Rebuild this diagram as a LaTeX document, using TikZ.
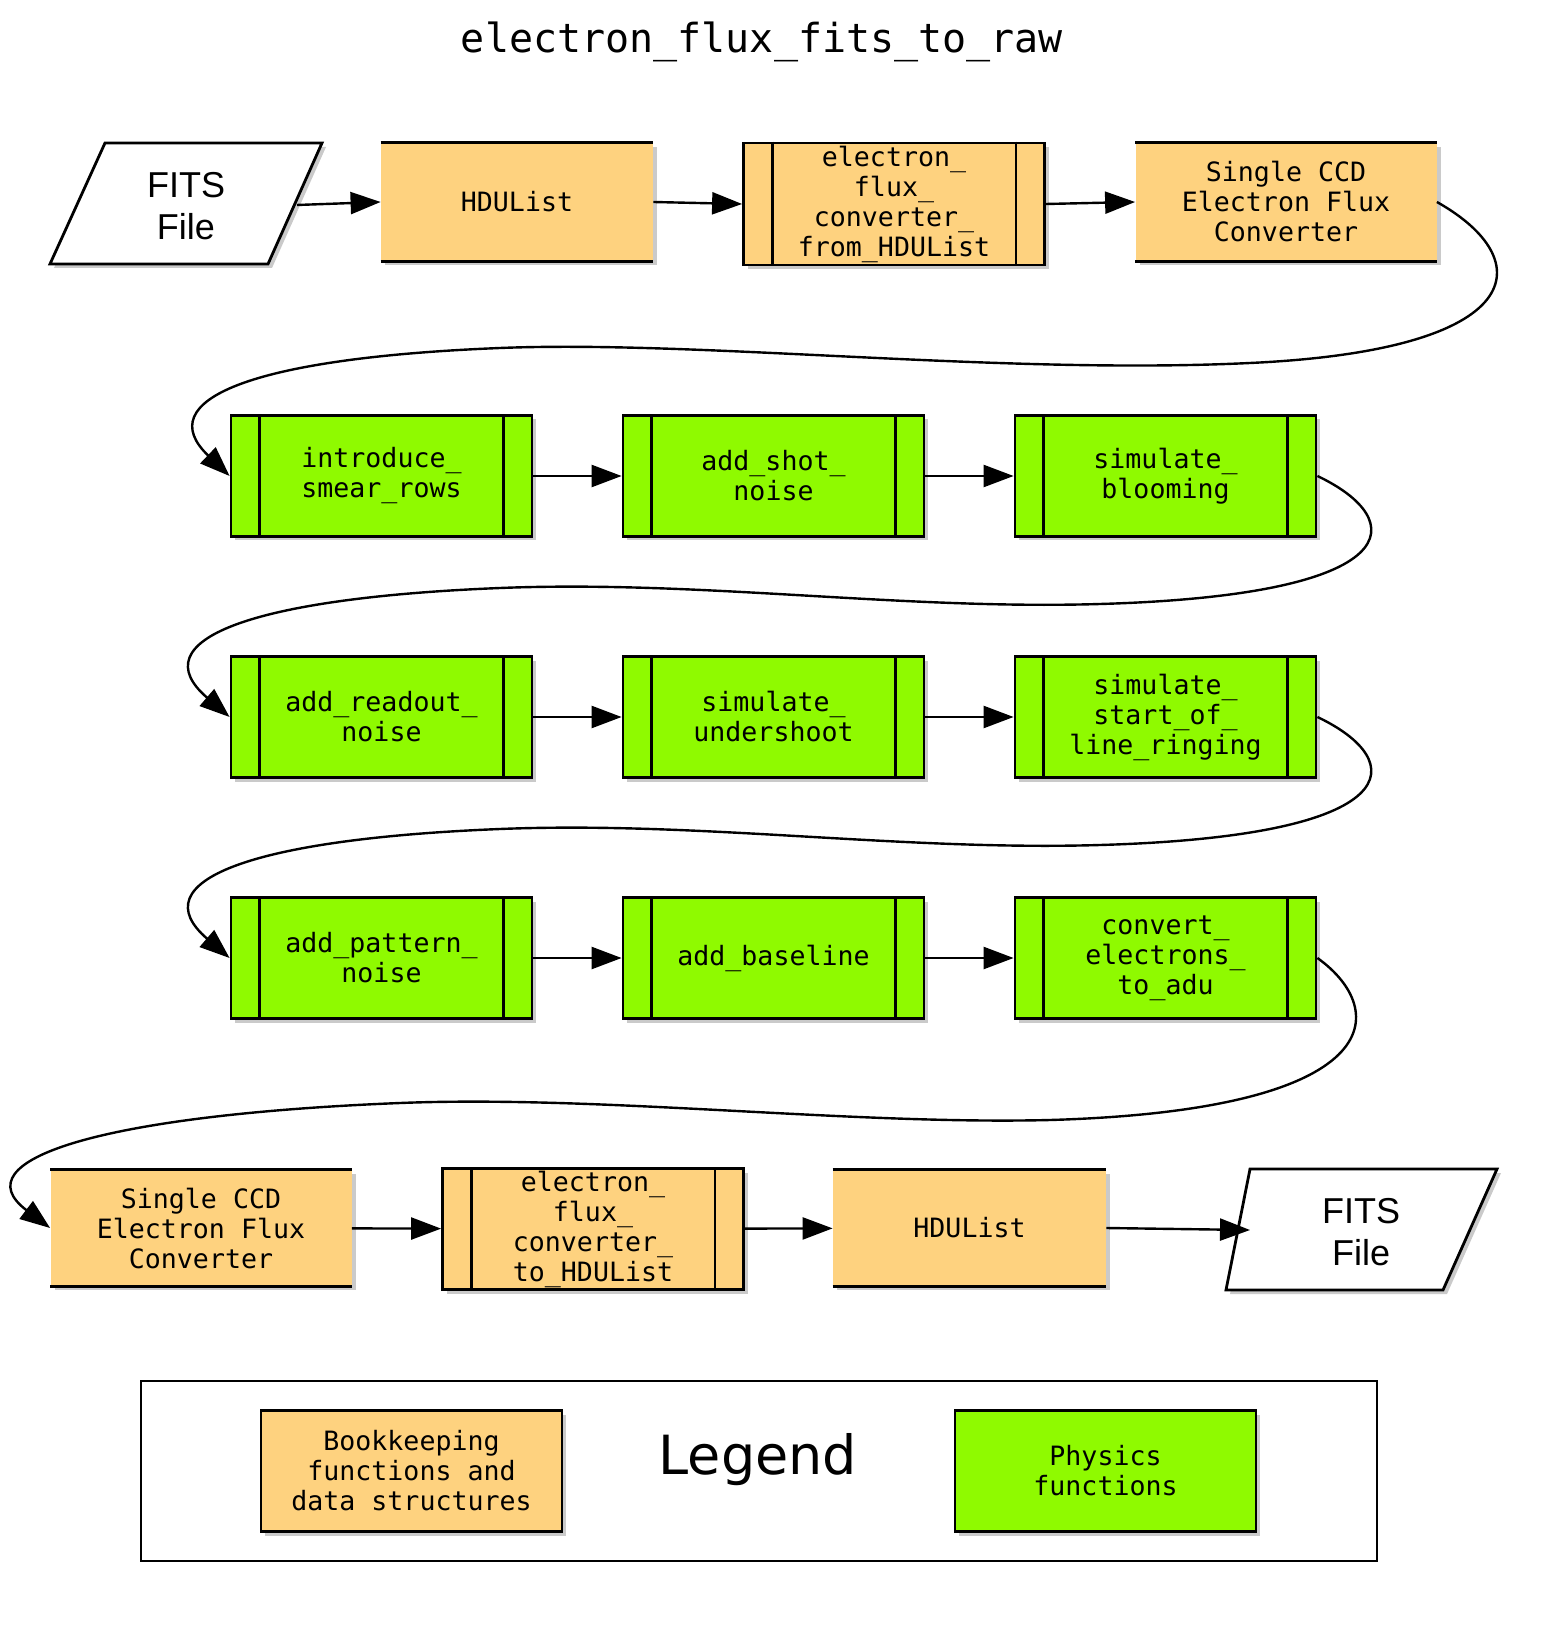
\documentclass[tikz,border=0pt]{standalone}
\usepackage{fontspec}
\setmonofont{DejaVu Sans Mono}
\newfontfamily\legfont{DejaVu Sans}
\newfontfamily\fitsfont{Liberation Sans}
\usetikzlibrary{arrows.meta,shadows}
\definecolor{bk}{HTML}{FED27F}
\definecolor{ph}{HTML}{8FFA00}
\tikzset{
  base/.style={minimum width=150.5pt,minimum height=60.5pt,inner sep=0pt,align=center,font=\ttfamily\fontsize{13.3}{15}\selectfont},
  shad/.style={drop shadow={shadow xshift=2pt,shadow yshift=-2pt,fill=black!35,opacity=0.6}},
  databox/.style={base,fill=bk,shad},
  subbk/.style={base,fill=bk,draw,line width=1.4pt,shad},
  subph/.style={base,fill=ph,draw,line width=1.4pt,shad},
  legbox/.style={base,draw,line width=1.4pt,shad},
  arr/.style={line width=1.2pt,-{Triangle[length=15pt,width=11pt]}},
  edge/.style={line width=1.4pt}
}
\newcommand{\dataedges}[1]{\draw[edge] (#1.north west)--(#1.north east); \draw[edge] (#1.south west)--(#1.south east);}
\newcommand{\sublines}[1]{\draw[edge] ([xshift=15pt]#1.north west)--([xshift=15pt]#1.south west); \draw[edge] ([xshift=-15pt]#1.north east)--([xshift=-15pt]#1.south east);}
\begin{document}
\begin{tikzpicture}[x=0.5pt,y=-0.5pt]
\useasboundingbox (0,0) rectangle (1559,1625);
\node (title) at (762,42) {\ttfamily\fontsize{20}{24}\selectfont electron\_flux\_fits\_to\_raw};
% row 1
\fill[black!35,opacity=0.6] (109,147)--(326,147)--(272,268)--(54,268)--cycle;
\draw[edge,fill=white] (105,143)--(322,143)--(268,264)--(50,264)--cycle;
\node[font=\fitsfont\fontsize{18}{21}\selectfont,align=center] (fits1) at (186,206) {FITS\\File};
\coordinate (f1out) at (297,205);
\node[databox,minimum width=136pt,minimum height=59pt] (hdu1) at (517,202) {HDUList}; \dataedges{hdu1}
\node[subbk,minimum height=61pt] (conv1) at (894,204) {electron\_\\flux\_\\converter\_\\from\_HDUList}; \sublines{conv1}
\node[databox,minimum height=59pt] (ccd1) at (1286,202) {Single CCD\\Electron Flux\\Converter}; \dataedges{ccd1}
% row 2
\node[subph] (r2a) at (381.5,476) {introduce\_\\smear\_rows}; \sublines{r2a}
\node[subph] (r2b) at (773.5,476) {add\_shot\_\\noise}; \sublines{r2b}
\node[subph] (r2c) at (1165.5,476) {simulate\_\\blooming}; \sublines{r2c}
% row 3
\node[subph] (r3a) at (381.5,717) {add\_readout\_\\noise}; \sublines{r3a}
\node[subph] (r3b) at (773.5,717) {simulate\_\\undershoot}; \sublines{r3b}
\node[subph] (r3c) at (1165.5,717) {simulate\_\\start\_of\_\\line\_ringing}; \sublines{r3c}
% row 4
\node[subph] (r4a) at (381.5,958) {add\_pattern\_\\noise}; \sublines{r4a}
\node[subph] (r4b) at (773.5,958) {add\_baseline}; \sublines{r4b}
\node[subph] (r4c) at (1165.5,958) {convert\_\\electrons\_\\to\_adu}; \sublines{r4c}
% row 5
\node[databox,minimum height=58pt] (ccd2) at (201,1228) {Single CCD\\Electron Flux\\Converter}; \dataedges{ccd2}
\node[subbk] (conv2) at (593,1229) {electron\_\\flux\_\\converter\_\\to\_HDUList}; \sublines{conv2}
\node[databox,minimum width=136.5pt,minimum height=58pt] (hdu2) at (969.5,1228) {HDUList}; \dataedges{hdu2}
\fill[black!35,opacity=0.6] (1254,1173)--(1501,1173)--(1447,1294)--(1230,1294)--cycle;
\draw[edge,fill=white] (1250,1169)--(1497,1169)--(1443,1290)--(1226,1290)--cycle;
\node[font=\fitsfont\fontsize{18}{21}\selectfont,align=center] (fits2) at (1361,1232) {FITS\\File};
\coordinate (f2in) at (1250,1230);
% arrows
\draw[arr] (f1out) -- (hdu1.west);
\draw[arr] (hdu1.east) -- (conv1.west);
\draw[arr] (conv1.east) -- (ccd1.west);
\draw[arr] (r2a)--(r2b); \draw[arr] (r2b)--(r2c);
\draw[arr] (r3a)--(r3b); \draw[arr] (r3b)--(r3c);
\draw[arr] (r4a)--(r4b); \draw[arr] (r4b)--(r4c);
\draw[arr] (ccd2)--(conv2); \draw[arr] (conv2)--(hdu2); \draw[arr] (hdu2.east)--(f2in);
\draw[arr] (ccd1.east) .. controls (1540,260) and (1530,350) .. (1250,363) .. controls (1000,375) and (700,340) .. (500,348) .. controls (250,358) and (150,400) .. (r2a.west);
\draw[arr] (r2c.east) .. controls (1410,520) and (1410,595) .. (1100,604) .. controls (900,610) and (700,580) .. (500,588) .. controls (250,598) and (140,640) .. (r3a.west);
\draw[arr] (r3c.east) .. controls (1410,761) and (1410,836) .. (1100,845) .. controls (900,851) and (700,821) .. (500,829) .. controls (250,839) and (140,881) .. (r4a.west);
\draw[arr] (r4c.east) .. controls (1390,1010) and (1390,1110) .. (1050,1120) .. controls (850,1125) and (600,1095) .. (400,1103) .. controls (100,1115) and (-40,1160) .. (ccd2.west);
% legend
\draw[edge] (141,1381) rectangle (1377,1561);
\node[legbox,fill=bk] (lbk) at (411.5,1471) {Bookkeeping\\functions and\\data structures};
\node[legbox,fill=ph] (lph) at (1105.5,1471) {Physics\\functions};
\node[font=\legfont\fontsize{27}{30}\selectfont] (leg) at (758,1460) {Legend};
\end{tikzpicture}
\end{document}
